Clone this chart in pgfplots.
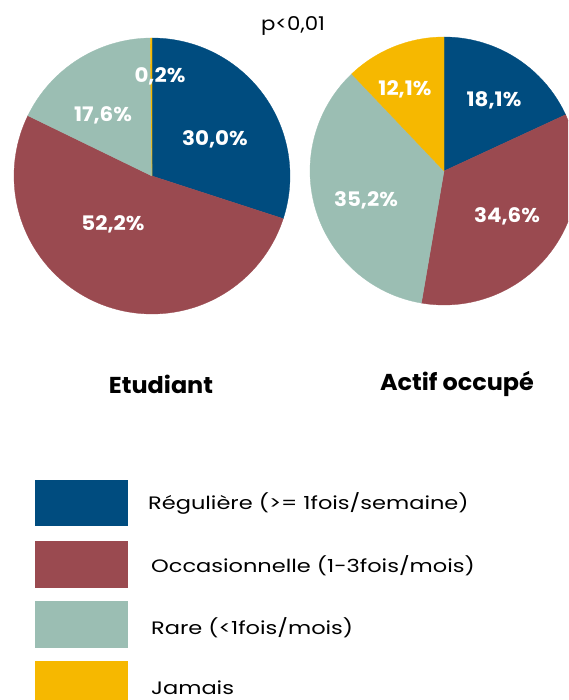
\documentclass[border=0pt]{standalone}
\usepackage{pgfplots}
\pgfplotsset{compat=1.18}
\usepackage{fontspec}
\setmainfont{Poppins}
\definecolor{cReg}{HTML}{004C7F}
\definecolor{cOcc}{HTML}{9A4A50}
\definecolor{cRare}{HTML}{9BBEB3}
\definecolor{cJam}{HTML}{F6B800}
\newfontfamily\legfont[FakeStretch=1.25]{Poppins}
\newfontfamily\pfont[FakeStretch=1.12]{Poppins}
\newfontfamily\labfont[FakeStretch=1.04]{Poppins}
\newfontfamily\pctfont[FakeStretch=1.07]{Poppins}
% #1 cx, #2 cy, #3 r, #4 cumulative start (%), #5 share (%), #6 colour
\newcommand\slice[6]{%
  \pgfmathsetmacro\aA{90-3.6*#4}%
  \pgfmathsetmacro\aB{90-3.6*(#4+#5)}%
  \edef\temp{\noexpand\addplot[fill=#6, draw=#6, line width=0.3pt, domain=\aB:\aA, samples=90]
    ({#1+#3*cos(\noexpand\x)},{#2-#3*sin(\noexpand\x)}) -- (axis cs:#1,#2) -- cycle;}%
  \temp}
\begin{document}
\begin{tikzpicture}
\begin{axis}[
  width=568pt, height=700pt, scale only axis,
  xmin=0, xmax=568, ymin=0, ymax=700, y dir=reverse,
  axis lines=none, ticks=none, clip=true,
]
% Etudiant: 30.0 / 52.2 / 17.6 / 0.2
\slice{152}{176}{138}{0}{30.0}{cReg}
\slice{152}{176}{138}{30.0}{52.2}{cOcc}
\slice{152}{176}{138}{82.2}{17.6}{cRare}
\slice{152}{176}{138}{99.8}{0.2}{cJam}
% Actif occupe: 18.1 / 34.6 / 35.2 / 12.1
\slice{444}{171}{134}{0}{18.1}{cReg}
\slice{444}{171}{134}{18.1}{34.6}{cOcc}
\slice{444}{171}{134}{52.7}{35.2}{cRare}
\slice{444}{171}{134}{87.9}{12.1}{cJam}

\begin{scope}[every node/.style={text=white, font=\pctfont\fontsize{20}{22}\selectfont\bfseries}]
\node at (axis cs:160,76) {0,2\%};
\node at (axis cs:215,139) {30,0\%};
\node at (axis cs:103,115) {17,6\%};
\node at (axis cs:113,224) {52,2\%};
\node at (axis cs:405,89) {12,1\%};
\node at (axis cs:494,100) {18,1\%};
\node at (axis cs:366,200) {35,2\%};
\node at (axis cs:507,216) {34,6\%};
\end{scope}

\node[font=\pfont\fontsize{19}{21}\selectfont] at (axis cs:293,26) {p<0,01};
\node[font=\labfont\fontsize{23}{25}\selectfont\bfseries] at (axis cs:161,384) {Etudiant};
\node[font=\labfont\fontsize{23}{25}\selectfont\bfseries] at (axis cs:457,384) {Actif occupé};

\fill[cReg] (axis cs:35,480) rectangle (axis cs:128,526);
\fill[cOcc] (axis cs:35,541) rectangle (axis cs:128,588);
\fill[cRare] (axis cs:35,601) rectangle (axis cs:128,648);
\fill[cJam] (axis cs:35,661) rectangle (axis cs:128,700);
\begin{scope}[every node/.style={anchor=west, inner sep=0pt, font=\legfont\fontsize{18}{20}\selectfont}]
\node at (axis cs:148,503) {Régulière (>= 1fois/semaine)};
\node at (axis cs:151,566) {Occasionnelle (1-3fois/mois)};
\node at (axis cs:151,628) {Rare (<1fois/mois)};
\node at (axis cs:151,688) {Jamais};
\end{scope}
\end{axis}
\pgfresetboundingbox
\path (current axis.south west) rectangle (current axis.north east);
\end{tikzpicture}
\end{document}
